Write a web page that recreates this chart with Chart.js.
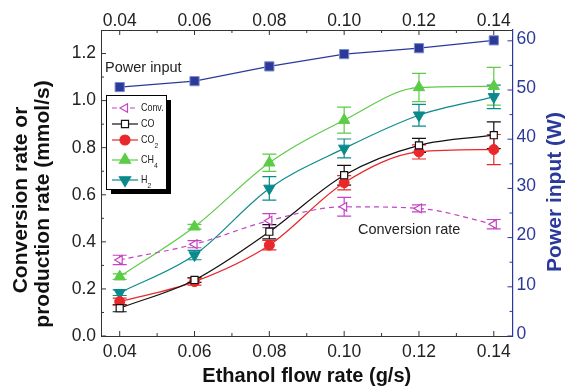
<!DOCTYPE html>
<html>
<head>
<meta charset="utf-8">
<script src="https://cdn.jsdelivr.net/npm/chart.js@4.4.1/dist/chart.umd.min.js"></script>
<style>
  html, body { margin: 0; padding: 0; background: #fff; }
  #wrap { width: 568px; height: 387px; position: relative; }
</style>
</head>
<body>
<div id="wrap"><canvas id="chart"></canvas></div>
<script>
// ethanol flow rate (g/s)
const flow = [0.04, 0.06, 0.08, 0.10, 0.12, 0.14];

// conversion / production rates (mmol/s) with error bars
const convRate = [0.323, 0.390, 0.490, 0.549, 0.542, 0.475];
const convErr  = [0.020, 0.015, 0.030, 0.040, 0.015, 0.020];
const coRate   = [0.118, 0.238, 0.443, 0.683, 0.810, 0.853];
const coErr    = [0.015, 0.010, 0.030, 0.042, 0.030, 0.057];
const co2Rate  = [0.146, 0.231, 0.386, 0.651, 0.782, 0.792];
const co2Err   = [0.015, 0.015, 0.020, 0.030, 0.030, 0.064];
const ch4Rate  = [0.252, 0.464, 0.736, 0.917, 1.056, 1.061];
const ch4Err   = [0.012, 0.010, 0.037, 0.055, 0.060, 0.080];
const h2Rate   = [0.184, 0.344, 0.627, 0.797, 0.938, 1.016];
const h2Err    = [0.012, 0.020, 0.050, 0.040, 0.046, 0.050];

// power input (W)
const power = [50.6, 51.8, 54.8, 57.3, 58.5, 60.1];

// tick labels
const flowTicks = [0.04, 0.06, 0.08, 0.10, 0.12, 0.14];
const flowMinor = [0.05, 0.07, 0.09, 0.11, 0.13];
const rateTicks = [0.0, 0.2, 0.4, 0.6, 0.8, 1.0, 1.2];
const rateMinor = [0.1, 0.3, 0.5, 0.7, 0.9, 1.1];
const powerTicks = [0, 10, 20, 30, 40, 50, 60];
const powerMinor = [5, 15, 25, 35, 45, 55];

const FONT = '"Liberation Sans", Arial, sans-serif';
const BLUE = '#2b3a9a';

function pts(values) {
  return flow.map((x, i) => ({ x: x, y: values[i] }));
}

// text squeezed a little sideways, like the original figure
function narrowText(ctx, text, x, y, sx) {
  ctx.save();
  ctx.translate(x, y);
  ctx.scale(sx, 1);
  ctx.fillText(text, 0, 0);
  const w = ctx.measureText(text).width * sx;
  ctx.restore();
  return w;
}

const errorBars = {
  id: 'errorBars',
  beforeDatasetsDraw(chart) {
    const ctx = chart.ctx;
    chart.data.datasets.forEach((ds, i) => {
      if (!ds.errors) return;
      const meta = chart.getDatasetMeta(i);
      const yScale = chart.scales[ds.yAxisID || 'y'];
      ctx.save();
      ctx.strokeStyle = ds.borderColor;
      ctx.lineWidth = 1.2;
      meta.data.forEach((pt, j) => {
        const v = ds.data[j].y;
        const e = ds.errors[j];
        const top = yScale.getPixelForValue(v + e);
        const bot = yScale.getPixelForValue(v - e);
        ctx.beginPath();
        ctx.moveTo(pt.x, top); ctx.lineTo(pt.x, bot);
        ctx.moveTo(pt.x - 7, top); ctx.lineTo(pt.x + 7, top);
        ctx.moveTo(pt.x - 7, bot); ctx.lineTo(pt.x + 7, bot);
        ctx.stroke();
      });
      ctx.restore();
    });
  }
};

const decor = {
  id: 'decor',
  afterDraw(chart) {
    const ctx = chart.ctx;
    const a = chart.chartArea;
    const sx = chart.scales.x, sy = chart.scales.y, sy2 = chart.scales.y2;

    // inward tick marks
    ctx.save();
    ctx.lineWidth = 1;
    ctx.strokeStyle = '#333';
    ctx.beginPath();
    flowTicks.concat(flowMinor).forEach(v => {
      const len = flowTicks.includes(v) ? 5 : 3;
      const x = sx.getPixelForValue(v);
      ctx.moveTo(x, a.bottom); ctx.lineTo(x, a.bottom - len);
      ctx.moveTo(x, a.top); ctx.lineTo(x, a.top + len);
    });
    rateTicks.concat(rateMinor).forEach(v => {
      const len = rateTicks.includes(v) ? 5 : 3;
      const y = sy.getPixelForValue(v);
      ctx.moveTo(a.left, y); ctx.lineTo(a.left + len, y);
    });
    ctx.stroke();
    ctx.strokeStyle = BLUE;
    ctx.beginPath();
    powerTicks.concat(powerMinor).forEach(v => {
      const len = powerTicks.includes(v) ? 5 : 3;
      const y = sy2.getPixelForValue(v);
      ctx.moveTo(a.right, y); ctx.lineTo(a.right - len, y);
    });
    ctx.stroke();
    ctx.restore();

    // axis titles
    ctx.save();
    ctx.fillStyle = '#111';
    ctx.font = 'bold 20px ' + FONT;
    ctx.textAlign = 'center';
    ctx.textBaseline = 'alphabetic';
    ctx.fillText('Ethanol flow rate (g/s)', (a.left + a.right) / 2, 382);
    ctx.font = 'bold 21px ' + FONT;
    ctx.textBaseline = 'middle';
    ctx.save();
    ctx.translate(21, 200);
    ctx.rotate(-Math.PI / 2);
    ctx.fillText('Conversion rate or', 0, 0);
    ctx.restore();
    ctx.save();
    ctx.translate(43, 204);
    ctx.rotate(-Math.PI / 2);
    ctx.fillText('production rate (mmol/s)', 0, 0);
    ctx.restore();
    ctx.save();
    ctx.fillStyle = BLUE;
    ctx.translate(555, 192);
    ctx.rotate(-Math.PI / 2);
    ctx.fillText('Power input (W)', 0, 0);
    ctx.restore();

    // annotations
    ctx.font = '14.5px ' + FONT;
    ctx.fillStyle = '#222';
    ctx.textAlign = 'left';
    ctx.fillText('Power input', 105, 68);
    ctx.fillText('Conversion rate', 358, 230);
    ctx.restore();

    // legend box
    ctx.save();
    ctx.fillStyle = '#000';
    ctx.fillRect(111, 100, 60, 94);
    ctx.fillStyle = '#fff';
    ctx.fillRect(106, 95, 60, 94);
    ctx.strokeStyle = '#000';
    ctx.lineWidth = 1;
    ctx.strokeRect(106.5, 95.5, 60, 94);
    const rows = [108, 124, 140, 160, 180];
    const labels = [['Conv.', ''], ['CO', ''], ['CO', '2'], ['CH', '4'], ['H', '2']];
    chart.data.datasets.slice(0, 5).forEach((ds, i) => {
      const y = rows[i];
      ctx.strokeStyle = ds.borderColor;
      ctx.lineWidth = 1.2;
      ctx.setLineDash(ds.borderDash || []);
      ctx.beginPath();
      ctx.moveTo(112, y); ctx.lineTo(138, y);
      ctx.stroke();
      ctx.setLineDash([]);
      ctx.fillStyle = ds.pointBackgroundColor;
      ctx.strokeStyle = ds.borderColor;
      Chart.helpers.drawPoint(ctx, {
        pointStyle: ds.pointStyle, radius: ds.pointRadius,
        rotation: ds.pointRotation || 0, borderWidth: 1.2
      }, 125, y);
      ctx.fillStyle = '#222';
      ctx.font = '10.5px ' + FONT;
      ctx.textBaseline = 'middle';
      ctx.textAlign = 'left';
      const w = narrowText(ctx, labels[i][0], 141, y, 0.85);
      if (labels[i][1]) {
        ctx.font = '8px ' + FONT;
        narrowText(ctx, labels[i][1], 141 + w, y + 6, 0.85);
      }
    });
    ctx.restore();
  }
};

new Chart(document.getElementById('chart'), {
  type: 'line',
  data: {
    datasets: [
      {
        label: 'Conv.', data: pts(convRate), errors: convErr,
        borderColor: '#c443c4', borderDash: [5, 4], borderWidth: 1.2,
        pointStyle: 'triangle', pointRotation: -90, pointRadius: 5,
        pointBackgroundColor: '#fff', pointBorderColor: '#c443c4', pointBorderWidth: 1.2,
        cubicInterpolationMode: 'monotone', yAxisID: 'y'
      },
      {
        label: 'CO', data: pts(coRate), errors: coErr,
        borderColor: '#111', borderWidth: 1.2,
        pointStyle: 'rect', pointRadius: 5,
        pointBackgroundColor: '#fff', pointBorderColor: '#111', pointBorderWidth: 1.2,
        cubicInterpolationMode: 'monotone', yAxisID: 'y'
      },
      {
        label: 'CO2', data: pts(co2Rate), errors: co2Err,
        borderColor: '#e8282a', borderWidth: 1.2,
        pointStyle: 'circle', pointRadius: 5,
        pointBackgroundColor: '#e8282a', pointBorderColor: '#e8282a', pointBorderWidth: 1,
        cubicInterpolationMode: 'monotone', yAxisID: 'y'
      },
      {
        label: 'CH4', data: pts(ch4Rate), errors: ch4Err,
        borderColor: '#5ccc46', borderWidth: 1.2,
        pointStyle: 'triangle', pointRadius: 6.5,
        pointBackgroundColor: '#5ccc46', pointBorderColor: '#5ccc46', pointBorderWidth: 1,
        cubicInterpolationMode: 'monotone', yAxisID: 'y'
      },
      {
        label: 'H2', data: pts(h2Rate), errors: h2Err,
        borderColor: '#0b8a8c', borderWidth: 1.2,
        pointStyle: 'triangle', pointRotation: 180, pointRadius: 6.5,
        pointBackgroundColor: '#0b8a8c', pointBorderColor: '#0b8a8c', pointBorderWidth: 1,
        cubicInterpolationMode: 'monotone', yAxisID: 'y'
      },
      {
        label: 'Power input', data: pts(power),
        borderColor: BLUE, borderWidth: 1.2,
        pointStyle: 'rect', pointRadius: 6.5,
        pointBackgroundColor: BLUE, pointBorderColor: '#7f8ccc', pointBorderWidth: 1,
        tension: 0, yAxisID: 'y2'
      }
    ]
  },
  options: {
    responsive: true,
    maintainAspectRatio: false,
    animation: false,
    layout: { padding: 0 },
    plugins: { legend: { display: false }, tooltip: { enabled: false } },
    scales: {
      x: {
        type: 'linear', position: 'bottom', min: 0.035, max: 0.145,
        afterBuildTicks: s => { s.ticks = flowTicks.map(v => ({ value: v })); },
        afterFit: s => { s.height = 51; },
        grid: { display: false, drawTicks: false },
        border: { display: true, color: '#333', width: 1 },
        ticks: {
          padding: 6, color: '#222', autoSkip: false, maxRotation: 0,
          font: { size: 17.5, family: FONT },
          callback: v => v.toFixed(2)
        }
      },
      x2: {
        type: 'linear', position: 'top', min: 0.035, max: 0.145,
        afterBuildTicks: s => { s.ticks = flowTicks.map(v => ({ value: v })); },
        afterFit: s => { s.height = 30; },
        grid: { display: false, drawTicks: false },
        border: { display: true, color: '#333', width: 1 },
        ticks: {
          padding: -2, color: '#222', autoSkip: false, maxRotation: 0,
          font: { size: 17.5, family: FONT },
          callback: v => v.toFixed(2)
        }
      },
      y: {
        position: 'left', min: 0, max: 1.3,
        afterBuildTicks: s => { s.ticks = rateTicks.map(v => ({ value: v })); },
        afterFit: s => { s.width = 101; },
        grid: { display: false, drawTicks: false },
        border: { display: true, color: '#333', width: 1 },
        ticks: {
          padding: 5, color: '#222', autoSkip: false,
          font: { size: 17.5, family: FONT },
          callback: v => v.toFixed(1)
        }
      },
      y2: {
        position: 'right', min: 0, max: 62.2,
        afterBuildTicks: s => { s.ticks = powerTicks.map(v => ({ value: v })); },
        afterFit: s => { s.width = 55.5; },
        grid: { display: false, drawTicks: false },
        border: { display: true, color: BLUE, width: 1.2 },
        ticks: {
          padding: 4, color: BLUE, autoSkip: false, labelOffset: -2,
          font: { size: 17.5, family: FONT }
        }
      }
    }
  },
  plugins: [errorBars, decor]
});
</script>
</body>
</html>
